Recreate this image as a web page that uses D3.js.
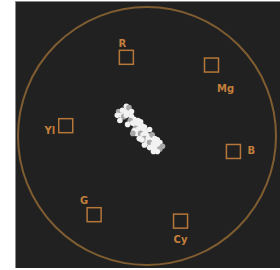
<!DOCTYPE html>
<html>
<head>
<meta charset="utf-8">
<script src="https://cdn.jsdelivr.net/npm/d3@7"></script>
<style>
  body { margin: 0; background: #fff; }
  svg { display: block; }
</style>
</head>
<body>
<div id="chart"></div>
<script>
// target boxes (u, v) in chroma units
var targets = ["R", "Mg", "B", "Cy", "G", "Yl"];
var targetU = [-0.16, 0.50, 0.67, 0.26, -0.41, -0.63];
var targetV = [0.61, 0.55, -0.12, -0.66, -0.61, 0.08];
// label offsets (px) relative to box centre
var labelDx = [-4, 14, 18, 0, -10, -16];
var labelDy = [-14, 23, -1, 18, -14, 5];

// the scatter of the picture's chroma
var blobU = [-0.22, -0.19, -0.17, -0.15, -0.20, -0.18, -0.16, -0.12, -0.10, -0.21,
  -0.13, -0.11, -0.09, -0.06, -0.04, -0.09, -0.07, -0.05, -0.02, -0.08,
  -0.05, -0.03, -0.01, 0.01, -0.10, -0.02, 0.01, 0.03, 0.05, 0.00,
  0.02, 0.05, 0.07, 0.09, 0.06, 0.10, 0.04, 0.08,
  -0.16, -0.23, -0.14, -0.12, -0.15, -0.07, -0.05, -0.11, -0.02, 0.02,
  -0.06, -0.04, 0.04, 0.06, -0.02, 0.02, 0.10, 0.12, 0.08, 0.05];
var blobV = [0.19, 0.20, 0.19, 0.18, 0.16, 0.15, 0.16, 0.15, 0.13, 0.12,
  0.12, 0.10, 0.09, 0.09, 0.08, 0.06, 0.05, 0.05, 0.04, 0.02,
  0.02, 0.01, 0.02, 0.00, 0.04, -0.02, -0.02, -0.03, -0.04, -0.05,
  -0.05, -0.06, -0.05, -0.08, -0.09, -0.10, -0.09, -0.03,
  0.23, 0.16, 0.22, 0.19, 0.09, 0.12, 0.11, 0.02, 0.07, 0.05,
  -0.02, -0.03, 0.01, -0.02, -0.07, -0.09, -0.05, -0.08, -0.12, -0.12];

var w = 280, h = 270;
var cx = 147, cy = 136, r = 129;

var svg = d3.select("#chart").append("svg")
  .attr("width", w)
  .attr("height", h);

var x = d3.scaleLinear().domain([-1, 1]).range([cx - r, cx + r]);
var y = d3.scaleLinear().domain([-1, 1]).range([cy + r, cy - r]);

// panel
svg.append("rect")
  .attr("x", 15).attr("y", 1)
  .attr("width", w - 15).attr("height", h - 3)
  .attr("fill", "#212121");
svg.append("line").attr("x1", 15.5).attr("x2", 15.5).attr("y1", 1).attr("y2", h - 2)
  .attr("stroke", "#8a8a8a");
svg.append("line").attr("x1", 15).attr("x2", w).attr("y1", 1.5).attr("y2", 1.5)
  .attr("stroke", "#8a8a8a");

// outer graticule circle
svg.append("circle")
  .attr("cx", x(0)).attr("cy", y(0))
  .attr("r", x(1) - x(0))
  .attr("fill", "none")
  .attr("stroke", "#7f5d31")
  .attr("stroke-width", 2);

var defs = svg.append("defs");
defs.append("filter").attr("id", "soft")
  .append("feGaussianBlur").attr("stdDeviation", 0.7);

var boxes = svg.selectAll(".target")
  .data(targets)
  .enter()
  .append("g")
  .attr("class", "target")
  .attr("transform", function(d, i){ return "translate(" + x(targetU[i]) + "," + y(targetV[i]) + ")"; });

boxes.append("rect")
  .attr("x", -7).attr("y", -7)
  .attr("width", 14).attr("height", 14)
  .attr("fill", "none")
  .attr("stroke", "#b5773a")
  .attr("stroke-width", 1.5);

boxes.append("text")
  .attr("x", function(d, i){ return labelDx[i]; })
  .attr("y", function(d, i){ return labelDy[i]; })
  .attr("text-anchor", "middle")
  .attr("dominant-baseline", "central")
  .attr("font-family", "DejaVu Sans")
  .attr("font-weight", "bold")
  .attr("font-size", "10px")
  .attr("fill", "#c47f3c")
  .text(function(d){ return d; });

// scatter
svg.append("g")
  .attr("filter", "url(#soft)")
  .selectAll("circle")
  .data(blobU)
  .enter()
  .append("circle")
  .attr("cx", function(d){ return x(d); })
  .attr("cy", function(d, i){ return y(blobV[i]); })
  .attr("r", 2.8)
  .attr("fill", function(d, i){ return i % 5 == 0 ? "#a8a8a8" : "#f2f2f2"; });
</script>
</body>
</html>
